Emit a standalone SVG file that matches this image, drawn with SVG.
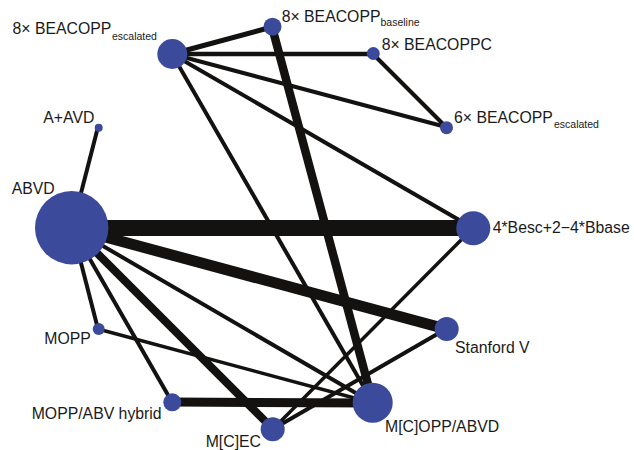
<svg xmlns="http://www.w3.org/2000/svg" width="634" height="450" viewBox="0 0 634 450">
<style>
.e{stroke:#141210;stroke-linecap:butt;fill:none}
.n{fill:#3c4a9c}
text{font-family:"Liberation Sans",Arial,sans-serif;font-size:15.8px;fill:#1a1a1a}
.s{font-size:10.5px}
</style>
<rect width="634" height="450" fill="#fff"/>
<g id="connectors">
<line class="e" x1="172" y1="54" x2="272" y2="27" stroke-width="5"/>
<line class="e" x1="172" y1="54" x2="373" y2="54" stroke-width="4.5"/>
<line class="e" x1="172" y1="54" x2="446" y2="127" stroke-width="4"/>
<line class="e" x1="172" y1="54" x2="473" y2="228" stroke-width="4"/>
<line class="e" x1="172" y1="54" x2="373" y2="403" stroke-width="4"/>
<line class="e" x1="272" y1="27" x2="373" y2="403" stroke-width="8.5"/>
<line class="e" x1="373" y1="54" x2="446" y2="127" stroke-width="4"/>
<line class="e" x1="98" y1="127" x2="72" y2="228" stroke-width="4"/>
<line class="e" x1="72" y1="228" x2="473" y2="228" stroke-width="16"/>
<line class="e" x1="72" y1="228" x2="446" y2="329" stroke-width="11"/>
<line class="e" x1="72" y1="228" x2="98" y2="329" stroke-width="4"/>
<line class="e" x1="72" y1="228" x2="172" y2="402" stroke-width="4"/>
<line class="e" x1="72" y1="228" x2="273" y2="429" stroke-width="8"/>
<line class="e" x1="72" y1="228" x2="373" y2="403" stroke-width="4"/>
<line class="e" x1="473" y1="228" x2="273" y2="429" stroke-width="3.5"/>
<line class="e" x1="446" y1="329" x2="273" y2="429" stroke-width="4"/>
<line class="e" x1="98" y1="329" x2="373" y2="403" stroke-width="3.5"/>
<line class="e" x1="172" y1="402" x2="373" y2="403" stroke-width="9"/>
</g>
<g id="n_esc8"><circle class="n" cx="172.3" cy="54" r="15"/><text x="12.5" y="34.3">8× BEACOPP<tspan class="s" x="112" y="39.5">escalated</tspan></text></g>
<g id="n_base"><circle class="n" cx="272.5" cy="26.7" r="9"/><text x="281.7" y="21.7">8× BEACOPP<tspan class="s" x="380.5" y="26">baseline</tspan></text></g>
<g id="n_c"><circle class="n" cx="373.3" cy="53.5" r="6.5"/><text x="381.7" y="50">8× BEACOPPC</text></g>
<g id="n_esc6"><circle class="n" cx="446.5" cy="127.7" r="6.5"/><text x="454" y="122.7">6× BEACOPP<tspan class="s" x="554" y="127.7">escalated</tspan></text></g>
<g id="n_aavd"><circle class="n" cx="98.7" cy="127.7" r="4"/><text x="43.3" y="122.7">A+AVD</text></g>
<g id="n_abvd"><circle class="n" cx="71.7" cy="227.7" r="36.7"/><text x="11.7" y="194">ABVD</text></g>
<g id="n_besc"><circle class="n" cx="473.3" cy="228.3" r="17"/><text x="492.7" y="232.7">4*Besc+2−4*Bbase</text></g>
<g id="n_stan"><circle class="n" cx="446.7" cy="329" r="12"/><text x="455" y="353.3">Stanford V</text></g>
<g id="n_mopp"><circle class="n" cx="98.7" cy="329" r="6"/><text x="44.3" y="344.3">MOPP</text></g>
<g id="n_hyb"><circle class="n" cx="172.3" cy="402.3" r="9"/><text x="31.7" y="419">MOPP/ABV hybrid</text></g>
<g id="n_mcec"><circle class="n" cx="272.7" cy="429.3" r="12"/><text x="205.7" y="446.7">M[C]EC</text></g>
<g id="n_mcopp"><circle class="n" cx="372.7" cy="402.7" r="20"/><text x="385" y="432.3">M[C]OPP/ABVD</text></g>
</svg>
